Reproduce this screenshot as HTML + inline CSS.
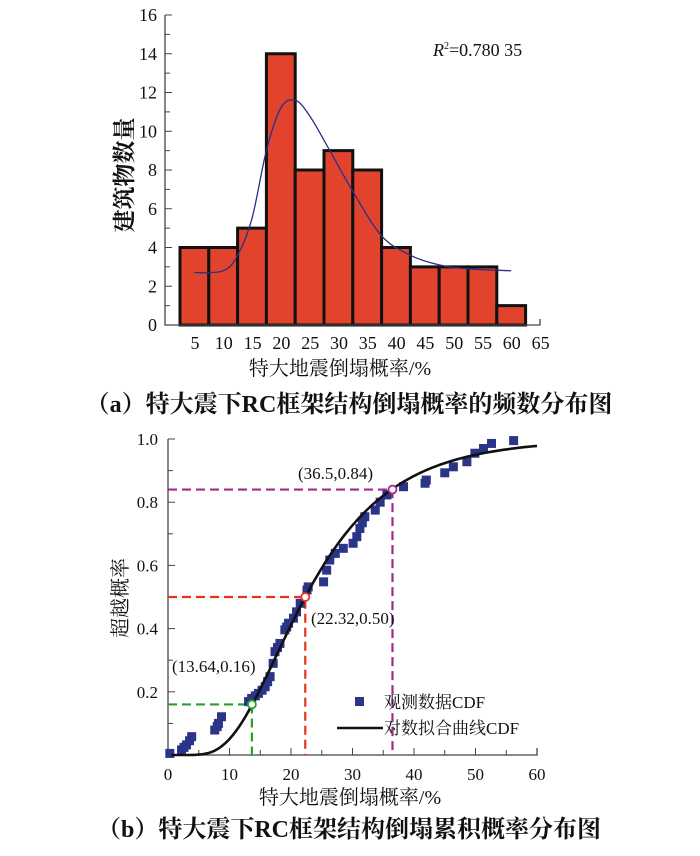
<!DOCTYPE html>
<html><head><meta charset="utf-8">
<style>
body{margin:0;background:#fff;}
svg text{font-family:"Liberation Serif","Noto Serif CJK SC",serif;fill:#111;}
</style></head>
<body>
<svg id="s" width="700" height="851" viewBox="0 0 700 851" xmlns="http://www.w3.org/2000/svg">
<g id="top"></g>
<g id="bot"></g>
</svg>
<script>
// ===== Chart (a) data =====
const histCounts = [4,4,5,14,8,9,8,4,3,3,3,1];
const histTickLabels = ["5","10","15","20","25","30","35","40","45","50","55","60","65"];
const histYTicks = [0,2,4,6,8,10,12,14,16];
const fitX = [0.5,1.5,2.0,2.5,3.0,3.5,4.0,4.5,5.2,6.0,7.0,8.0,9.0,10.0,11.5];
const fitY = [2.7,2.8,3.6,5.5,9.0,11.2,11.6,10.8,9.0,6.9,4.6,3.6,3.1,2.9,2.8];
// ===== Chart (b) data =====
const obsX = [0.3,2.2,2.6,3.0,3.5,3.85,7.6,8.0,8.2,8.7,13.1,13.6,14.2,14.7,15.3,15.8,16.2,16.6,17.1,17.4,17.8,18.2,19.0,19.3,19.6,20.4,20.9,21.5,22.6,22.8,25.3,25.8,26.3,27.2,28.5,30.1,30.7,31.2,31.6,32.0,33.7,34.5,35.6,38.3,41.8,42.0,45.0,46.4,48.6,49.9,51.3,52.6,56.2];
const obsY = [0.005,0.016,0.024,0.032,0.045,0.058,0.079,0.09,0.10,0.121,0.169,0.179,0.187,0.195,0.205,0.216,0.232,0.248,0.29,0.327,0.34,0.353,0.396,0.405,0.417,0.433,0.453,0.48,0.522,0.532,0.548,0.585,0.617,0.638,0.654,0.67,0.691,0.717,0.735,0.754,0.775,0.80,0.823,0.849,0.86,0.87,0.893,0.912,0.928,0.955,0.97,0.986,0.995];
const fitMedian = [22.32];
const fitSigma = [0.49];
const markX = [13.64,22.32,36.5];
const markY = [0.16,0.50,0.84];
const markLabels = ["(13.64,0.16)","(22.32,0.50)","(36.5,0.84)"];
const cdfXTicks = [0,10,20,30,40,50,60];
const cdfYTicks = [0.2,0.4,0.6,0.8,1.0];

const NS="http://www.w3.org/2000/svg";
function mk(parent,tag,attrs,text){const e=document.createElementNS(NS,tag);for(const k in attrs)e.setAttribute(k,attrs[k]);if(text!==undefined)e.textContent=text;parent.appendChild(e);return e;}

// ---------- chart (a) ----------
const T=document.getElementById('top');
const hx0=180,hbw=28.8,hy0=325,hpy=19.375;
const hX=u=>hx0+u*hbw, hY=v=>hy0-v*hpy;
histCounts.forEach((c,i)=>{
  const r=mk(T,'rect',{x:hX(i),y:hY(c),width:hbw,height:hY(0)-hY(c),fill:'#e2432c',stroke:'#111','stroke-width':3});
  
  
});
let ax=mk(T,'path',{d:`M165,${hY(16)} V${hy0} H540 V${hy0-6}`,fill:'none',stroke:'#444','stroke-width':1.3});

for(let v=0;v<=16;v++){mk(T,'line',{x1:165,x2:v%2==0?172:170,y1:hY(v),y2:hY(v),stroke:'#444','stroke-width':1});}
histYTicks.forEach(v=>{const t=mk(T,'text',{x:157,y:hY(v)+6,'text-anchor':'end','font-size':18},String(v));
  });
histTickLabels.forEach((l,i)=>{const t=mk(T,'text',{x:hX(i)+15,y:349,'text-anchor':'middle','font-size':18},l);
  });
function smooth(px,py){let d=`M${px[0]},${py[0]}`;for(let i=0;i<px.length-1;i++){const p0=i?i-1:i,p3=i+2<px.length?i+2:i+1;
 const c1x=px[i]+(px[i+1]-px[p0])/6,c1y=py[i]+(py[i+1]-py[p0])/6,c2x=px[i+1]-(px[p3]-px[i])/6,c2y=py[i+1]-(py[p3]-py[i])/6;
 d+=` C${c1x.toFixed(1)},${c1y.toFixed(1)} ${c2x.toFixed(1)},${c2y.toFixed(1)} ${px[i+1].toFixed(1)},${py[i+1].toFixed(1)}`;}return d;}
const fc=mk(T,'path',{d:smooth(fitX.map(hX),fitY.map(hY)),fill:'none',stroke:'#2a2f8a','stroke-width':1.3});

let r2=mk(T,'text',{x:433,y:56,'font-size':18});r2.innerHTML='<tspan font-style="italic">R</tspan><tspan font-size="10" dy="-7">2</tspan><tspan dy="7">=0.780 35</tspan>';

let yt=mk(T,'text',{x:0,y:0,transform:'translate(132,175) rotate(-90)','text-anchor':'middle','font-size':23,'font-weight':'bold'},'建筑物数量');

let xt=mk(T,'text',{x:340,y:375,'text-anchor':'middle','font-size':20},'特大地震倒塌概率/%');

let ca=mk(T,'text',{x:349,y:412,'text-anchor':'middle','font-size':24,'font-weight':'bold'},'（a）特大震下RC框架结构倒塌概率的频数分布图');


// ---------- chart (b) ----------
const B=document.getElementById('bot');
const bx0=168,bx1=537,by0=755,by1=439;
const cX=v=>bx0+v/60*(bx1-bx0), cY=v=>by0-v*(by0-by1);
let bax=mk(B,'path',{d:`M${bx0},${by1} V${by0} H${bx1} V${by0-7}`,fill:'none',stroke:'#444','stroke-width':1.3});

for(let v=0;v<=60;v+=5){mk(B,'line',{x1:cX(v),x2:cX(v),y1:by0,y2:by0-(v%10==0?7:5),stroke:'#444'});}
for(let k=1;k<=10;k++){mk(B,'line',{x1:bx0,x2:bx0+(k%2==0?7:5),y1:cY(k/10),y2:cY(k/10),stroke:'#444'});}
cdfXTicks.forEach(v=>{const t=mk(B,'text',{x:cX(v),y:780,'text-anchor':'middle','font-size':17},String(v));
  });
cdfYTicks.forEach(v=>{const t=mk(B,'text',{x:158,y:cY(v)+6,'text-anchor':'end','font-size':17},v.toFixed(1));
  });
const gcol=['#2aa02a','#e8321e','#a32a8c'];
markX.forEach((mx,i)=>{
  const g=mk(B,'path',{d:`M${bx0},${cY(markY[i])} H${cX(mx)} V${by0}`,fill:'none',stroke:gcol[i],'stroke-width':2.2,'stroke-dasharray':'9,5'});
  
});
obsX.forEach((x,i)=>{const r=mk(B,'rect',{x:cX(x)-4.5,y:cY(obsY[i])-4.5,width:9,height:9,fill:'#2b3587'});
  });
function erf(x){const s=x<0?-1:1;x=Math.abs(x);const t=1/(1+0.3275911*x);const y=1-(((((1.061405429*t-1.453152027)*t)+1.421413741)*t-0.284496736)*t+0.254829592)*t*Math.exp(-x*x);return s*y;}
let cd='';for(let x=0.5;x<=60.01;x+=0.5){const p=0.5*(1+erf(Math.log(x/fitMedian[0])/(fitSigma[0]*Math.SQRT2)));cd+=(cd?' L':'M')+cX(x).toFixed(1)+','+cY(p).toFixed(1);}
const cc=mk(B,'path',{d:cd,fill:'none',stroke:'#111','stroke-width':2.6});

markX.forEach((mx,i)=>{const c=mk(B,'circle',{cx:cX(mx),cy:cY(markY[i]),r:4,fill:'#fff',stroke:gcol[i],'stroke-width':1.8});
  });
const lpos=[[172,672,'start'],[311,624,'start'],[298,479,'start']];
markLabels.forEach((l,i)=>{const t=mk(B,'text',{x:lpos[i][0],y:lpos[i][1],'font-size':17,'text-anchor':lpos[i][2]},l);
  });
let lg=mk(B,'g',{});
mk(lg,'rect',{x:355,y:697,width:9,height:9,fill:'#2b3587'});
mk(lg,'text',{x:384,y:708,'font-size':17},'观测数据CDF');
mk(lg,'line',{x1:337,x2:383,y1:728,y2:728,stroke:'#111','stroke-width':2.6});
mk(lg,'text',{x:384,y:734,'font-size':17},'对数拟合曲线CDF');
let byt=mk(B,'text',{x:0,y:0,transform:'translate(127,598) rotate(-90)','text-anchor':'middle','font-size':20},'超越概率');

let bxt=mk(B,'text',{x:350,y:804,'text-anchor':'middle','font-size':20},'特大地震倒塌概率/%');

let cb=mk(B,'text',{x:349,y:837,'text-anchor':'middle','font-size':24,'font-weight':'bold'},'（b）特大震下RC框架结构倒塌累积概率分布图');

</script>
</body></html>
